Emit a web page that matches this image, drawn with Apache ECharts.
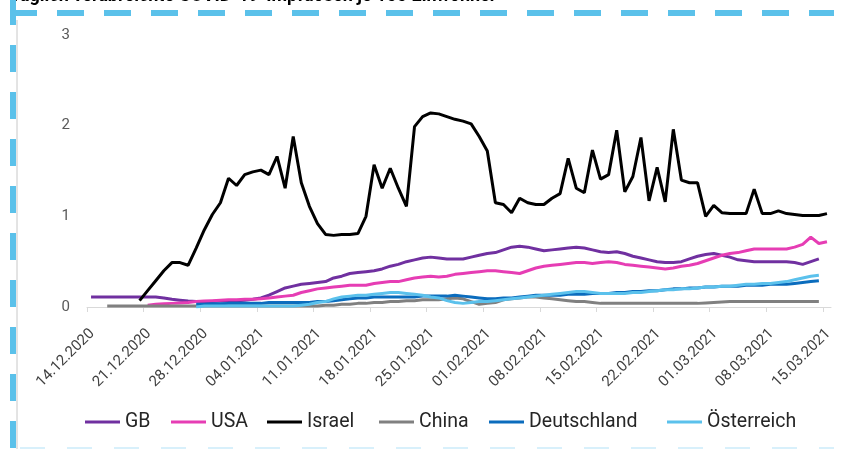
<!DOCTYPE html>
<html>
<head>
<meta charset="utf-8">
<script src="https://cdn.jsdelivr.net/npm/echarts@6/dist/echarts.min.js"></script>
<style>
html,body{margin:0;padding:0;background:#fff;}
#c{width:853px;height:449px;}
</style>
</head>
<body>
<div id="c"></div>
<script>
// Day index 0 = 14.12.2020, one value per day
const tickLabels = ['14.12.2020','21.12.2020','28.12.2020','04.01.2021','11.01.2021','18.01.2021','25.01.2021','01.02.2021','08.02.2021','15.02.2021','22.02.2021','01.03.2021','08.03.2021','15.03.2021'];
const seriesNames = ['GB','USA','Israel','China','Deutschland','Österreich'];

const gbStart = 0;
const gb = [0.11,0.11,0.11,0.11,0.11,0.11,0.11,0.11,0.11,0.10,0.085,0.075,0.065,0.06,0.06,0.06,0.065,0.066,0.07,0.075,
  0.085,0.10,0.13,0.17,0.21,0.23,0.25,0.26,0.27,0.28,0.32,0.34,0.37,0.38,0.39,0.40,0.42,0.45,0.47,0.50,
  0.52,0.54,0.55,0.54,0.53,0.53,0.53,0.55,0.57,0.59,0.60,0.63,0.66,0.67,0.66,0.64,0.62,0.63,0.64,0.65,
  0.66,0.65,0.63,0.61,0.60,0.61,0.59,0.56,0.54,0.52,0.50,0.49,0.49,0.50,0.53,0.56,0.58,0.59,0.57,0.55,
  0.52,0.51,0.50,0.50,0.50,0.50,0.50,0.49,0.47,0.50,0.53];

const usaStart = 7;
const usa = [0.02,0.03,0.035,0.04,0.045,0.05,0.06,0.065,0.07,0.075,0.08,0.08,0.085,0.085,0.09,0.10,0.11,0.12,0.13,0.16,
  0.18,0.20,0.21,0.22,0.23,0.24,0.24,0.24,0.26,0.27,0.28,0.28,0.30,0.32,0.33,0.34,0.33,0.34,0.36,0.37,
  0.38,0.39,0.40,0.40,0.39,0.38,0.37,0.40,0.43,0.45,0.46,0.47,0.48,0.49,0.49,0.48,0.49,0.50,0.49,0.47,
  0.46,0.45,0.44,0.43,0.42,0.43,0.45,0.46,0.48,0.51,0.54,0.57,0.59,0.60,0.62,0.64,0.64,0.64,0.64,0.64,
  0.66,0.69,0.77,0.70,0.72];

const israelStart = 6;
const israel = [0.07,0.18,0.29,0.40,0.49,0.49,0.46,0.65,0.85,1.02,1.15,1.42,1.34,1.46,1.49,1.51,1.46,1.66,1.31,1.88,
  1.37,1.11,0.92,0.80,0.79,0.80,0.80,0.81,1.00,1.57,1.31,1.53,1.31,1.11,1.99,2.10,2.14,2.13,2.10,2.07,
  2.05,2.02,1.88,1.72,1.15,1.13,1.04,1.20,1.15,1.13,1.13,1.20,1.25,1.64,1.31,1.26,1.73,1.41,1.46,1.95,
  1.27,1.44,1.87,1.17,1.54,1.16,1.96,1.40,1.37,1.37,1.00,1.12,1.04,1.03,1.03,1.03,1.30,1.03,1.03,1.06,
  1.03,1.02,1.01,1.01,1.01,1.03];

const chinaStart = 2;
const china = [0.01,0.01,0.01,0.01,0.01,0.01,0.01,0.01,0.01,0.01,0.01,0.01,0.01,0.01,0.01,0.01,0.01,0.01,0.01,0.01,
  0.01,0.01,0.01,0.01,0.01,0.01,0.01,0.02,0.02,0.03,0.03,0.04,0.04,0.05,0.05,0.06,0.06,0.07,0.07,0.08,
  0.08,0.08,0.09,0.10,0.09,0.06,0.03,0.04,0.05,0.08,0.09,0.10,0.11,0.11,0.10,0.09,0.08,0.07,0.06,0.06,
  0.05,0.04,0.04,0.04,0.04,0.04,0.04,0.04,0.04,0.04,0.04,0.04,0.04,0.04,0.045,0.05,0.055,0.06,0.06,0.06,
  0.06,0.06,0.06,0.06,0.06,0.06,0.06,0.06,0.06];

const deStart = 13;
const de = [0.03,0.03,0.035,0.035,0.04,0.04,0.04,0.04,0.04,0.05,0.05,0.05,0.05,0.05,0.05,0.06,0.06,0.07,0.08,0.09,
  0.10,0.10,0.11,0.11,0.11,0.11,0.11,0.11,0.12,0.12,0.12,0.12,0.13,0.12,0.11,0.10,0.09,0.09,0.10,0.10,
  0.11,0.12,0.13,0.13,0.13,0.13,0.14,0.14,0.14,0.15,0.15,0.15,0.16,0.16,0.17,0.17,0.18,0.18,0.19,0.20,
  0.20,0.21,0.21,0.22,0.22,0.23,0.23,0.23,0.24,0.24,0.24,0.25,0.25,0.25,0.26,0.27,0.28,0.29];

const atStart = 13;
const at = [0.00,0.01,0.01,0.01,0.01,0.01,0.01,0.01,0.01,0.01,0.01,0.01,0.01,0.02,0.03,0.05,0.06,0.09,0.11,0.12,
  0.13,0.13,0.14,0.15,0.16,0.16,0.15,0.14,0.13,0.11,0.10,0.07,0.05,0.04,0.05,0.06,0.06,0.07,0.08,0.09,
  0.10,0.11,0.12,0.13,0.14,0.15,0.16,0.17,0.17,0.16,0.15,0.15,0.15,0.15,0.16,0.16,0.17,0.18,0.19,0.19,
  0.20,0.20,0.21,0.22,0.22,0.23,0.23,0.24,0.25,0.25,0.26,0.26,0.27,0.28,0.30,0.32,0.34,0.35];

const colors = ['#7030a0','#e63db4','#000000','#808080','#0b6cbd','#5bc1ec'];
const starts = [gbStart,usaStart,israelStart,chinaStart,deStart,atStart];
const values = [gb,usa,israel,china,de,at];
const tickDays = tickLabels.map((_, i) => i * 7);
const legendLefts = [85, 171, 267, 379, 489, 667];

function toPoints(start, arr){ return arr.map((v, i) => [start + i + 0.5, v]); }

const chart = echarts.init(document.getElementById('c'), null, {renderer:'canvas'});
const option = {
  animation:false,
  backgroundColor:'#ffffff',
  grid:{left:87,right:22,top:35,bottom:142,containLabel:false},
  xAxis:{
    type:'value', min:0, max:92, interval:7,
    axisLine:{show:true,lineStyle:{color:'#d9d9d9',width:1}},
    axisTick:{show:true,length:5,lineStyle:{color:'#d9d9d9'},customValues:tickDays},
    splitLine:{show:false},
    axisLabel:{
      customValues:tickDays,
      rotate:45, margin:19, fontSize:15, color:'#404040', fontFamily:'Roboto', verticalAlign:'top',
      formatter:function(v){ const k = Math.round(v/7); return (Math.abs(v - k*7) < 1e-6 && tickLabels[k]) ? tickLabels[k] : ''; }
    }
  },
  yAxis:{
    type:'value', min:0, max:3, interval:1,
    axisLine:{show:false}, axisTick:{show:false}, splitLine:{show:false},
    axisLabel:{fontSize:15, color:'#595959', margin:17, fontFamily:'Roboto'}
  },
  legend: seriesNames.map((n, i) => ({
    left:legendLefts[i], top:412, padding:0, icon:'rect', itemWidth:35, itemHeight:3, itemGap:0,
    textStyle:{fontSize:19.5, color:'#262626', fontFamily:'Roboto'},
    data:[n]
  })),
  series: seriesNames.map((n, i) => ({
    name:n, type:'line', data:toPoints(starts[i], values[i]),
    symbol:'none', smooth:false,
    lineStyle:{width:3, color:colors[i]}, itemStyle:{color:colors[i]}
  })),
  graphic:[
    {type:'text', x:10, y:-13, silent:true,
     style:{text:'Täglich verabreichte COVID-19-Impfdosen je 100 Einwohner', fontSize:18, fontWeight:'bold', fill:'#000', fontFamily:'Roboto'}},
    {type:'line', silent:true, shape:{x1:17, y1:20, x2:17, y2:449}, style:{stroke:'#c8c8c8', lineWidth:1}},
    {type:'line', silent:true, shape:{x1:10, y1:13, x2:834, y2:13}, style:{stroke:'#5bc1ea', lineWidth:6, lineDash:[27,20]}},
    {type:'line', silent:true, shape:{x1:13, y1:-2, x2:13, y2:449}, style:{stroke:'#5bc1ea', lineWidth:6, lineDash:[27,20]}},
    {type:'line', silent:true, shape:{x1:20, y1:448.5, x2:834, y2:448.5}, style:{stroke:'#d8f0fb', lineWidth:3, lineDash:[25,22]}}
  ]
};
chart.setOption(option);
</script>
</body>
</html>
